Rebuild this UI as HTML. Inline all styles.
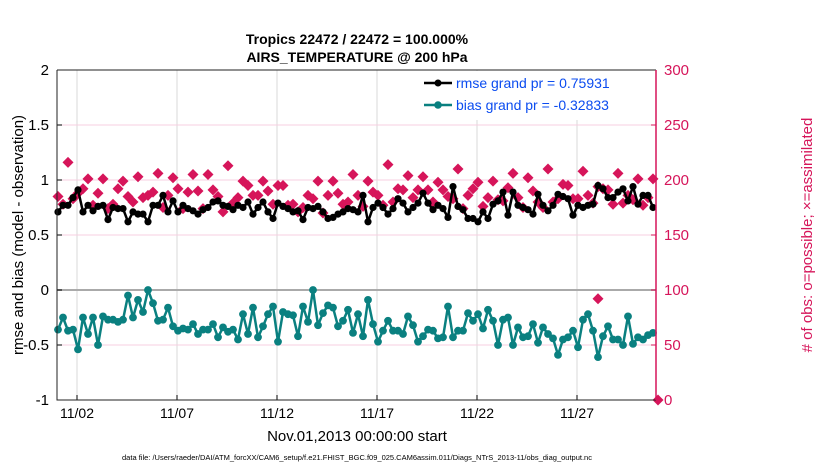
<!DOCTYPE html>
<html><head><meta charset="utf-8"><style>
html,body{margin:0;padding:0;background:#fff;}
svg{display:block;font-family:"Liberation Sans",sans-serif;}
</style></head><body>
<svg id="chart" width="830" height="470" viewBox="0 0 830 470">
<text x="357" y="44" text-anchor="middle" font-size="14" font-weight="bold">Tropics 22472 / 22472 = 100.000%</text>
<text x="357" y="62" text-anchor="middle" font-size="14" font-weight="bold">AIRS_TEMPERATURE @ 200 hPa</text>
<text transform="translate(23,235) rotate(-90)" text-anchor="middle" font-size="15">rmse and bias (model - observation)</text>
<text transform="translate(812,235) rotate(-90)" text-anchor="middle" font-size="15" fill="#d6155a"># of obs: o=possible; ×=assimilated</text>
<text x="357" y="441" text-anchor="middle" font-size="15">Nov.01,2013 00:00:00 start</text>
<text x="357" y="460" text-anchor="middle" font-size="7.5">data file: /Users/raeder/DAI/ATM_forcXX/CAM6_setup/f.e21.FHIST_BGC.f09_025.CAM6assim.011/Diags_NTrS_2013-11/obs_diag_output.nc</text>
<g id="grid"></g><g id="marks"></g><g id="axes"></g>
<g>
<rect x="418" y="71" width="237" height="49" fill="#fff"/>
<line x1="424" y1="83" x2="452" y2="83" stroke="#000" stroke-width="2.5"/>
<circle cx="438" cy="83" r="3.5" fill="#000"/>
<text x="456" y="88" font-size="14" fill="#0b4cf0">rmse grand pr = 0.75931</text>
<line x1="424" y1="105" x2="452" y2="105" stroke="#0a8080" stroke-width="2.5"/>
<circle cx="438" cy="105" r="3.8" fill="#0a8080"/>
<text x="456" y="110" font-size="14" fill="#0b4cf0">bias grand pr = -0.32833</text>
</g>
</svg>
<script>
const rmse=[.71,.77,.77,.84,.91,.71,.77,.72,.76,.77,.64,.75,.74,.74,.62,.71,.69,.69,.62,.77,.77,.86,.71,.81,.71,.77,.74,.72,.69,.73,
.75,.80,.81,.77,.76,.73,.77,.75,.80,.69,.75,.80,.71,.65,.79,.76,.74,.71,.72,.64,.75,.74,.76,.71,.65,.66,.69,.71,.74,
.73,.71,.86,.62,.75,.79,.75,.69,.74,.83,.79,.71,.75,.79,.88,.79,.73,.77,.74,.66,.94,.76,.73,.65,.65,.62,.71,.65,.78,
.81,.89,.68,.89,.77,.75,.73,.69,.87,.77,.72,.77,.87,.85,.83,.68,.77,.75,.77,.78,.95,.92,.84,.84,.89,.92,.81,.94,.78,.86,.86,.75];
const bias=[-.36,-.25,-.37,-.36,-.54,-.25,-.40,-.25,-.50,-.24,-.27,-.27,-.29,-.27,-.05,-.25,-.09,-.20,0,-.12,-.28,-.27,-.16,-.33,-.37,-.35,-.36,-.31,-.40,-.36,
-.36,-.31,-.43,-.34,-.38,-.36,-.45,-.22,-.40,-.16,-.43,-.33,-.22,-.15,-.47,-.20,-.22,-.23,-.42,-.15,-.29,0,-.32,-.21,-.14,-.16,-.33,-.28,-.18,
-.39,-.22,-.42,-.09,-.31,-.47,-.37,-.28,-.37,-.37,-.40,-.24,-.32,-.47,-.42,-.36,-.37,-.44,-.43,-.15,-.43,-.37,-.37,-.21,-.28,-.22,-.35,-.18,-.28,
-.50,-.27,-.25,-.50,-.34,-.43,-.42,-.31,-.48,-.34,-.40,-.44,-.59,-.45,-.43,-.37,-.52,-.27,-.22,-.37,-.61,-.42,-.33,-.45,-.45,-.50,-.24,-.49,-.43,-.45,-.41,-.39];
const obs=[185,178,216,183,188,192,201,177,188,201,174,178,192,199,185,180,203,184,186,189,206,175,186,202,192,174,189,205,190,174,
205,191,185,171,213,179,184,199,195,186,186,199,190,178,195,195,177,178,171,175,186,183,199,170,186,199,188,178,180,
205,186,176,199,189,186,177,214,180,192,191,204,184,191,203,191,180,198,191,185,183,210,174,186,192,198,176,184,199,
182,181,193,206,184,175,202,190,180,175,210,180,183,196,195,183,183,208,186,179,194,192,191,178,206,179,186,182,201,177,184,201,0];
const extraIdx=[108];
const extraObs=[92];
const xTickDays=[1,6,11,16,21,26];
const xTickLabels=["11/02","11/07","11/12","11/17","11/22","11/27"];
const yTicks=[-1,-0.5,0,0.5,1,1.5,2];
const yTickLabels=["-1","-0.5","0","0.5","1","1.5","2"];
const y2Ticks=[0,50,100,150,200,250,300];

const L=57,R=656,T=70,B=400;
const NS="http://www.w3.org/2000/svg";
function xDay(d){return L+20*d;}
function xIdx(i){return xDay(i*0.25+0.05);}
function yL(v){return B-(v+1)/3*(B-T);}
function yR(c){return B-c/300*(B-T);}
function mk(tag,attrs,parent){const e=document.createElementNS(NS,tag);for(const k in attrs)e.setAttribute(k,attrs[k]);parent.appendChild(e);return e;}
const grid=document.getElementById('grid'),marks=document.getElementById('marks'),axes=document.getElementById('axes');
xTickDays.forEach((d,k)=>{
 const g=mk('line',{x1:xDay(d),x2:xDay(d),y1:T,y2:B,stroke:'#d8d8d8','stroke-width':1},grid);
 
 
 const t=mk('line',{x1:xDay(d),x2:xDay(d),y1:B,y2:B-5,stroke:'#000'},axes);
 
 
 const tx=mk('text',{x:xDay(d),y:B+18,'text-anchor':'middle','font-size':14},axes);
 tx.textContent=xTickLabels[k];
 
 
});
yTicks.forEach((v,k)=>{
 if(v!==0&&v!==2&&v!==-1){const g=mk('line',{x1:L,x2:R,y1:yL(v),y2:yL(v),stroke:'#f7cfe0','stroke-width':1},grid);
 
 }
 const t=mk('line',{x1:L,x2:L+5,y1:yL(v),y2:yL(v),stroke:'#000'},axes);
 
 
 const tx=mk('text',{x:L-8,y:yL(v)+5,'text-anchor':'end','font-size':15},axes);
 tx.textContent=yTickLabels[k];
 
 
});
const z=mk('line',{x1:L,x2:R,y1:yL(0),y2:yL(0),stroke:'#aaa','stroke-width':2},grid);


y2Ticks.forEach(c=>{
 const t=mk('line',{x1:R-5,x2:R,y1:yR(c),y2:yR(c),stroke:'#d6155a'},axes);
 
 
 const tx=mk('text',{x:R+8,y:yR(c)+5,'font-size':15,fill:'#d6155a'},axes);
 tx.textContent=String(c);
 
 
});
const ax=mk('path',{d:`M${L},${T}H${R}M${L},${T}V${B}H${R}`,fill:'none',stroke:'#222','stroke-width':1},axes);


const ra=mk('line',{x1:R,x2:R,y1:T,y2:B,stroke:'#d6155a','stroke-width':1.5},axes);


function diamond(cx,cy,name){const s=5.5;const p=mk('polygon',{points:`${cx},${cy-s} ${cx+s},${cy} ${cx},${cy+s} ${cx-s},${cy}`,fill:'#d6155a'},marks);
 
 }
obs.forEach((c,i)=>diamond(xIdx(i),yR(c),'obs-marker'));
extraIdx.forEach((idx,k)=>diamond(xIdx(idx),yR(extraObs[k]),'obs-marker'));
function series(vals,color,r,name){
 const pl=mk('polyline',{points:vals.map((v,i)=>xIdx(i)+','+yL(v)).join(' '),fill:'none',stroke:color,'stroke-width':2.5,'stroke-linejoin':'round'},marks);
 
 
 vals.forEach((v,i)=>{const c=mk('circle',{cx:xIdx(i),cy:yL(v),r:r,fill:color},marks);
  
  });
}
series(rmse,'#000',3.6,'rmse');
series(bias,'#0a8080',3.9,'bias');
</script>
</body></html>
